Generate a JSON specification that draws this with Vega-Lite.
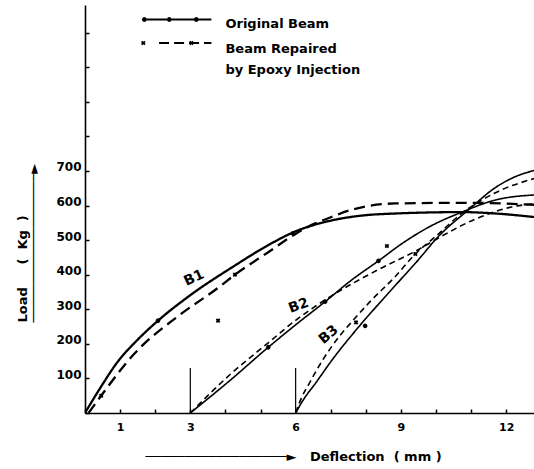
{
  "$schema": "https://vega.github.io/schema/vega-lite/v6.json",
  "width": 449,
  "height": 408,
  "autosize": {"type": "none"},
  "padding": {"left": 85, "top": 5, "right": 0, "bottom": 56},
  "background": "white",
  "config": {"view": {"stroke": null}, "font": "DejaVu Sans"},
  "datasets": {
    "curves": [
      {"beam": "B1", "series": "B1 Original", "x": 0, "y": 0},
      {"beam": "B1", "series": "B1 Original", "x": 0.45, "y": 75},
      {"beam": "B1", "series": "B1 Original", "x": 0.93, "y": 148},
      {"beam": "B1", "series": "B1 Original", "x": 1.5, "y": 212},
      {"beam": "B1", "series": "B1 Original", "x": 2.08, "y": 267},
      {"beam": "B1", "series": "B1 Original", "x": 3.03, "y": 343},
      {"beam": "B1", "series": "B1 Original", "x": 4.2, "y": 422},
      {"beam": "B1", "series": "B1 Original", "x": 5.3, "y": 490},
      {"beam": "B1", "series": "B1 Original", "x": 5.92, "y": 522},
      {"beam": "B1", "series": "B1 Original", "x": 7.03, "y": 557},
      {"beam": "B1", "series": "B1 Original", "x": 7.89, "y": 571},
      {"beam": "B1", "series": "B1 Original", "x": 8.84, "y": 577},
      {"beam": "B1", "series": "B1 Original", "x": 10.74, "y": 581},
      {"beam": "B1", "series": "B1 Original", "x": 11.69, "y": 577},
      {"beam": "B1", "series": "B1 Original", "x": 12.86, "y": 566},
      {"beam": "B1", "series": "B1 Repaired", "x": 0.1, "y": 0},
      {"beam": "B1", "series": "B1 Repaired", "x": 0.46, "y": 50},
      {"beam": "B1", "series": "B1 Repaired", "x": 1.41, "y": 172},
      {"beam": "B1", "series": "B1 Repaired", "x": 2.65, "y": 280},
      {"beam": "B1", "series": "B1 Repaired", "x": 3.79, "y": 362},
      {"beam": "B1", "series": "B1 Repaired", "x": 4.27, "y": 400},
      {"beam": "B1", "series": "B1 Repaired", "x": 5.22, "y": 465},
      {"beam": "B1", "series": "B1 Repaired", "x": 5.95, "y": 515},
      {"beam": "B1", "series": "B1 Repaired", "x": 6.46, "y": 544},
      {"beam": "B1", "series": "B1 Repaired", "x": 7.0, "y": 566},
      {"beam": "B1", "series": "B1 Repaired", "x": 7.6, "y": 588},
      {"beam": "B1", "series": "B1 Repaired", "x": 8.84, "y": 606},
      {"beam": "B1", "series": "B1 Repaired", "x": 10.74, "y": 608},
      {"beam": "B1", "series": "B1 Repaired", "x": 12.86, "y": 602},
      {"beam": "B2", "series": "B2 Original", "x": 3.0, "y": 0},
      {"beam": "B2", "series": "B2 Original", "x": 4.14, "y": 95},
      {"beam": "B2", "series": "B2 Original", "x": 5.22, "y": 190},
      {"beam": "B2", "series": "B2 Original", "x": 6.0, "y": 255},
      {"beam": "B2", "series": "B2 Original", "x": 6.84, "y": 322},
      {"beam": "B2", "series": "B2 Original", "x": 7.6, "y": 385},
      {"beam": "B2", "series": "B2 Original", "x": 8.36, "y": 440},
      {"beam": "B2", "series": "B2 Original", "x": 9.03, "y": 490},
      {"beam": "B2", "series": "B2 Original", "x": 9.8, "y": 538},
      {"beam": "B2", "series": "B2 Original", "x": 10.76, "y": 582},
      {"beam": "B2", "series": "B2 Original", "x": 11.69, "y": 616},
      {"beam": "B2", "series": "B2 Original", "x": 12.86, "y": 631},
      {"beam": "B2", "series": "B2 Repaired", "x": 3.0, "y": 0},
      {"beam": "B2", "series": "B2 Repaired", "x": 4.14, "y": 112},
      {"beam": "B2", "series": "B2 Repaired", "x": 5.22, "y": 203},
      {"beam": "B2", "series": "B2 Repaired", "x": 6.0, "y": 268},
      {"beam": "B2", "series": "B2 Repaired", "x": 6.93, "y": 333},
      {"beam": "B2", "series": "B2 Repaired", "x": 8.36, "y": 415},
      {"beam": "B2", "series": "B2 Repaired", "x": 9.45, "y": 470},
      {"beam": "B2", "series": "B2 Repaired", "x": 10.17, "y": 512},
      {"beam": "B2", "series": "B2 Repaired", "x": 11.1, "y": 560},
      {"beam": "B2", "series": "B2 Repaired", "x": 12.07, "y": 594},
      {"beam": "B2", "series": "B2 Repaired", "x": 12.86, "y": 606},
      {"beam": "B3", "series": "B3 Original", "x": 6.0, "y": 0},
      {"beam": "B3", "series": "B3 Original", "x": 6.2, "y": 35},
      {"beam": "B3", "series": "B3 Original", "x": 6.58, "y": 88},
      {"beam": "B3", "series": "B3 Original", "x": 7.05, "y": 155},
      {"beam": "B3", "series": "B3 Original", "x": 7.72, "y": 240},
      {"beam": "B3", "series": "B3 Original", "x": 8.38, "y": 317},
      {"beam": "B3", "series": "B3 Original", "x": 9.0, "y": 387},
      {"beam": "B3", "series": "B3 Original", "x": 9.41, "y": 433},
      {"beam": "B3", "series": "B3 Original", "x": 10.08, "y": 512},
      {"beam": "B3", "series": "B3 Original", "x": 10.93, "y": 588},
      {"beam": "B3", "series": "B3 Original", "x": 11.69, "y": 652},
      {"beam": "B3", "series": "B3 Original", "x": 12.27, "y": 684},
      {"beam": "B3", "series": "B3 Original", "x": 12.86, "y": 703},
      {"beam": "B3", "series": "B3 Repaired", "x": 6.0, "y": 0},
      {"beam": "B3", "series": "B3 Repaired", "x": 6.15, "y": 40},
      {"beam": "B3", "series": "B3 Repaired", "x": 6.39, "y": 86},
      {"beam": "B3", "series": "B3 Repaired", "x": 6.77, "y": 153},
      {"beam": "B3", "series": "B3 Repaired", "x": 7.24, "y": 221},
      {"beam": "B3", "series": "B3 Repaired", "x": 7.62, "y": 266},
      {"beam": "B3", "series": "B3 Repaired", "x": 8.1, "y": 320},
      {"beam": "B3", "series": "B3 Repaired", "x": 8.84, "y": 395},
      {"beam": "B3", "series": "B3 Repaired", "x": 9.41, "y": 460},
      {"beam": "B3", "series": "B3 Repaired", "x": 9.98, "y": 510},
      {"beam": "B3", "series": "B3 Repaired", "x": 10.74, "y": 578},
      {"beam": "B3", "series": "B3 Repaired", "x": 11.69, "y": 637},
      {"beam": "B3", "series": "B3 Repaired", "x": 12.86, "y": 680}
    ],
    "markers": [
      {"kind": "Original", "x": 2.08, "y": 267},
      {"kind": "Original", "x": 5.22, "y": 190},
      {"kind": "Original", "x": 6.84, "y": 322},
      {"kind": "Original", "x": 8.36, "y": 440},
      {"kind": "Original", "x": 7.98, "y": 252},
      {"kind": "Repaired", "x": 0.46, "y": 50},
      {"kind": "Repaired", "x": 4.27, "y": 400},
      {"kind": "Repaired", "x": 5.93, "y": 520},
      {"kind": "Repaired", "x": 3.79, "y": 267},
      {"kind": "Repaired", "x": 8.6, "y": 483},
      {"kind": "Repaired", "x": 7.72, "y": 262},
      {"kind": "Repaired", "x": 9.41, "y": 460},
      {"kind": "Original", "x": 1.69, "y": 1138},
      {"kind": "Original", "x": 2.4, "y": 1138},
      {"kind": "Original", "x": 3.17, "y": 1138},
      {"kind": "Repaired", "x": 1.66, "y": 1070},
      {"kind": "Repaired", "x": 3.03, "y": 1070}
    ],
    "legendLines": [
      {"series": "Original Beam", "x": 1.69, "y": 1138},
      {"series": "Original Beam", "x": 3.6, "y": 1138},
      {"series": "Beam Repaired", "x": 2.11, "y": 1070},
      {"series": "Beam Repaired", "x": 3.6, "y": 1070}
    ],
    "legendText": [
      {"label": "Original Beam", "x": 4.0, "y": 1125},
      {"label": "Beam Repaired", "x": 4.0, "y": 1053},
      {"label": "by Epoxy Injection", "x": 4.0, "y": 992}
    ],
    "beamLabels": [
      {"label": "B1", "x": 3.11, "y": 390},
      {"label": "B2", "x": 6.09, "y": 310},
      {"label": "B3", "x": 6.94, "y": 226}
    ],
    "vlines": [
      {"x": 3, "y": 0, "y2": 130},
      {"x": 6, "y": 0, "y2": 130}
    ]
  },
  "encoding": {
    "x": {
      "field": "x",
      "type": "quantitative",
      "scale": {"domain": [0, 12.79], "nice": false, "zero": false},
      "axis": {
        "values": [0, 1, 2, 3, 4, 5, 6, 7, 8, 9, 10, 11, 12],
        "labelExpr": "indexof([1,3,6,9,12], datum.value) >= 0 ? datum.label : ''",
        "grid": false,
        "tickSize": -4,
        "labelPadding": 12,
        "labelFont": "DejaVu Sans",
        "labelFontWeight": "bold",
        "labelFontSize": 11,
        "labelColor": "black",
        "domainColor": "black",
        "domainWidth": 1.6,
        "tickColor": "black",
        "tickWidth": 1.5,
        "title": "\u2500\u2500\u2500\u2500\u2500\u2500\u2500\u2500\u2500\u2500\u2500\u2500\u2500\u2500\u2500\u2500\u2500\u2500\u25ba\u00a0\u00a0\u00a0Deflection\u00a0\u00a0(\u00a0mm\u00a0)",
        "titleFont": "DejaVu Sans",
        "titleFontWeight": "bold",
        "titleFontSize": 13,
        "titleColor": "black",
        "titleAlign": "left",
        "titleAnchor": "start",
        "titleX": 60,
        "titleY": 43,
        "titleBaseline": "middle"
      }
    },
    "y": {
      "field": "y",
      "type": "quantitative",
      "scale": {"domain": [0, 1180], "nice": false},
      "axis": {
        "values": [0, 100, 200, 300, 400, 500, 600, 700, 800, 900, 1000, 1100],
        "labelExpr": "datum.value >= 100 && datum.value <= 700 ? datum.label : ''",
        "grid": false,
        "tickSize": -4,
        "labelPadding": 8,
        "labelFont": "DejaVu Sans",
        "labelFontWeight": "bold",
        "labelFontSize": 12,
        "labelColor": "black",
        "labelBaseline": "alphabetic",
        "domainColor": "black",
        "domainWidth": 1.6,
        "tickColor": "black",
        "tickWidth": 1.5,
        "title": ["Load\u00a0\u00a0\u00a0\u00a0\u00a0(\u00a0\u00a0Kg\u00a0\u00a0)", "\u2500\u2500\u2500\u2500\u2500\u2500\u2500\u2500\u2500\u2500\u2500\u2500\u2500\u2500\u2500\u2500\u2500\u2500\u2500\u25ba"],
        "titleFont": "DejaVu Sans",
        "titleFontWeight": "bold",
        "titleFontSize": 13,
        "titleColor": "black",
        "titleAngle": 270,
        "titleAlign": "left",
        "titleBaseline": "middle",
        "titleLineHeight": 11,
        "titleX": -63,
        "titleY": 317
      }
    }
  },
  "layer": [
    {
      "data": {"name": "curves"},
      "transform": [{"filter": "datum.beam == 'B1'"}],
      "mark": {"type": "line", "interpolate": "monotone", "color": "black", "strokeWidth": 2.3, "clip": true},
      "encoding": {
        "strokeDash": {
          "field": "series",
          "type": "nominal",
          "scale": {
            "domain": ["B1 Original", "B1 Repaired", "B2 Original", "B2 Repaired", "B3 Original", "B3 Repaired", "Original Beam", "Beam Repaired"],
            "range": [[1, 0], [11, 6], [1, 0], [6, 4], [1, 0], [6, 4], [1, 0], [10, 5]]
          },
          "legend": null
        }
      }
    },
    {
      "data": {"name": "curves"},
      "transform": [{"filter": "datum.beam != 'B1'"}],
      "mark": {"type": "line", "interpolate": "monotone", "color": "black", "strokeWidth": 1.6, "clip": true},
      "encoding": {
        "strokeDash": {
          "field": "series",
          "type": "nominal",
          "scale": {
            "domain": ["B1 Original", "B1 Repaired", "B2 Original", "B2 Repaired", "B3 Original", "B3 Repaired", "Original Beam", "Beam Repaired"],
            "range": [[1, 0], [11, 6], [1, 0], [6, 4], [1, 0], [6, 4], [1, 0], [10, 5]]
          },
          "legend": null
        }
      }
    },
    {
      "data": {"name": "legendLines"},
      "mark": {"type": "line", "color": "black", "strokeWidth": 2},
      "encoding": {
        "strokeDash": {
          "field": "series",
          "type": "nominal",
          "scale": {
            "domain": ["B1 Original", "B1 Repaired", "B2 Original", "B2 Repaired", "B3 Original", "B3 Repaired", "Original Beam", "Beam Repaired"],
            "range": [[1, 0], [11, 6], [1, 0], [6, 4], [1, 0], [6, 4], [1, 0], [10, 5]]
          },
          "legend": null
        }
      }
    },
    {
      "data": {"name": "vlines"},
      "mark": {"type": "rule", "color": "black", "strokeWidth": 1.2},
      "encoding": {"y2": {"field": "y2"}}
    },
    {
      "data": {"name": "markers"},
      "mark": {"type": "point", "filled": true, "color": "black", "size": 22, "angle": 45, "opacity": 1},
      "encoding": {
        "shape": {
          "field": "kind",
          "type": "nominal",
          "scale": {"domain": ["Original", "Repaired"], "range": ["circle", "cross"]},
          "legend": null
        }
      }
    },
    {
      "data": {"name": "legendText"},
      "mark": {"type": "text", "align": "left", "baseline": "middle", "font": "DejaVu Sans", "fontWeight": "bold", "fontSize": 13, "color": "black"},
      "encoding": {"text": {"field": "label"}}
    },
    {
      "data": {"name": "beamLabels"},
      "transform": [{"filter": "datum.label == 'B1'"}],
      "mark": {"type": "text", "align": "center", "baseline": "middle", "font": "DejaVu Sans", "fontWeight": "bold", "fontSize": 14, "angle": -25, "color": "black"},
      "encoding": {"text": {"field": "label"}}
    },
    {
      "data": {"name": "beamLabels"},
      "transform": [{"filter": "datum.label == 'B2'"}],
      "mark": {"type": "text", "align": "center", "baseline": "middle", "font": "DejaVu Sans", "fontWeight": "bold", "fontSize": 14, "angle": -20, "color": "black"},
      "encoding": {"text": {"field": "label"}}
    },
    {
      "data": {"name": "beamLabels"},
      "transform": [{"filter": "datum.label == 'B3'"}],
      "mark": {"type": "text", "align": "center", "baseline": "middle", "font": "DejaVu Sans", "fontWeight": "bold", "fontSize": 14, "angle": -40, "color": "black"},
      "encoding": {"text": {"field": "label"}}
    }
  ]
}
